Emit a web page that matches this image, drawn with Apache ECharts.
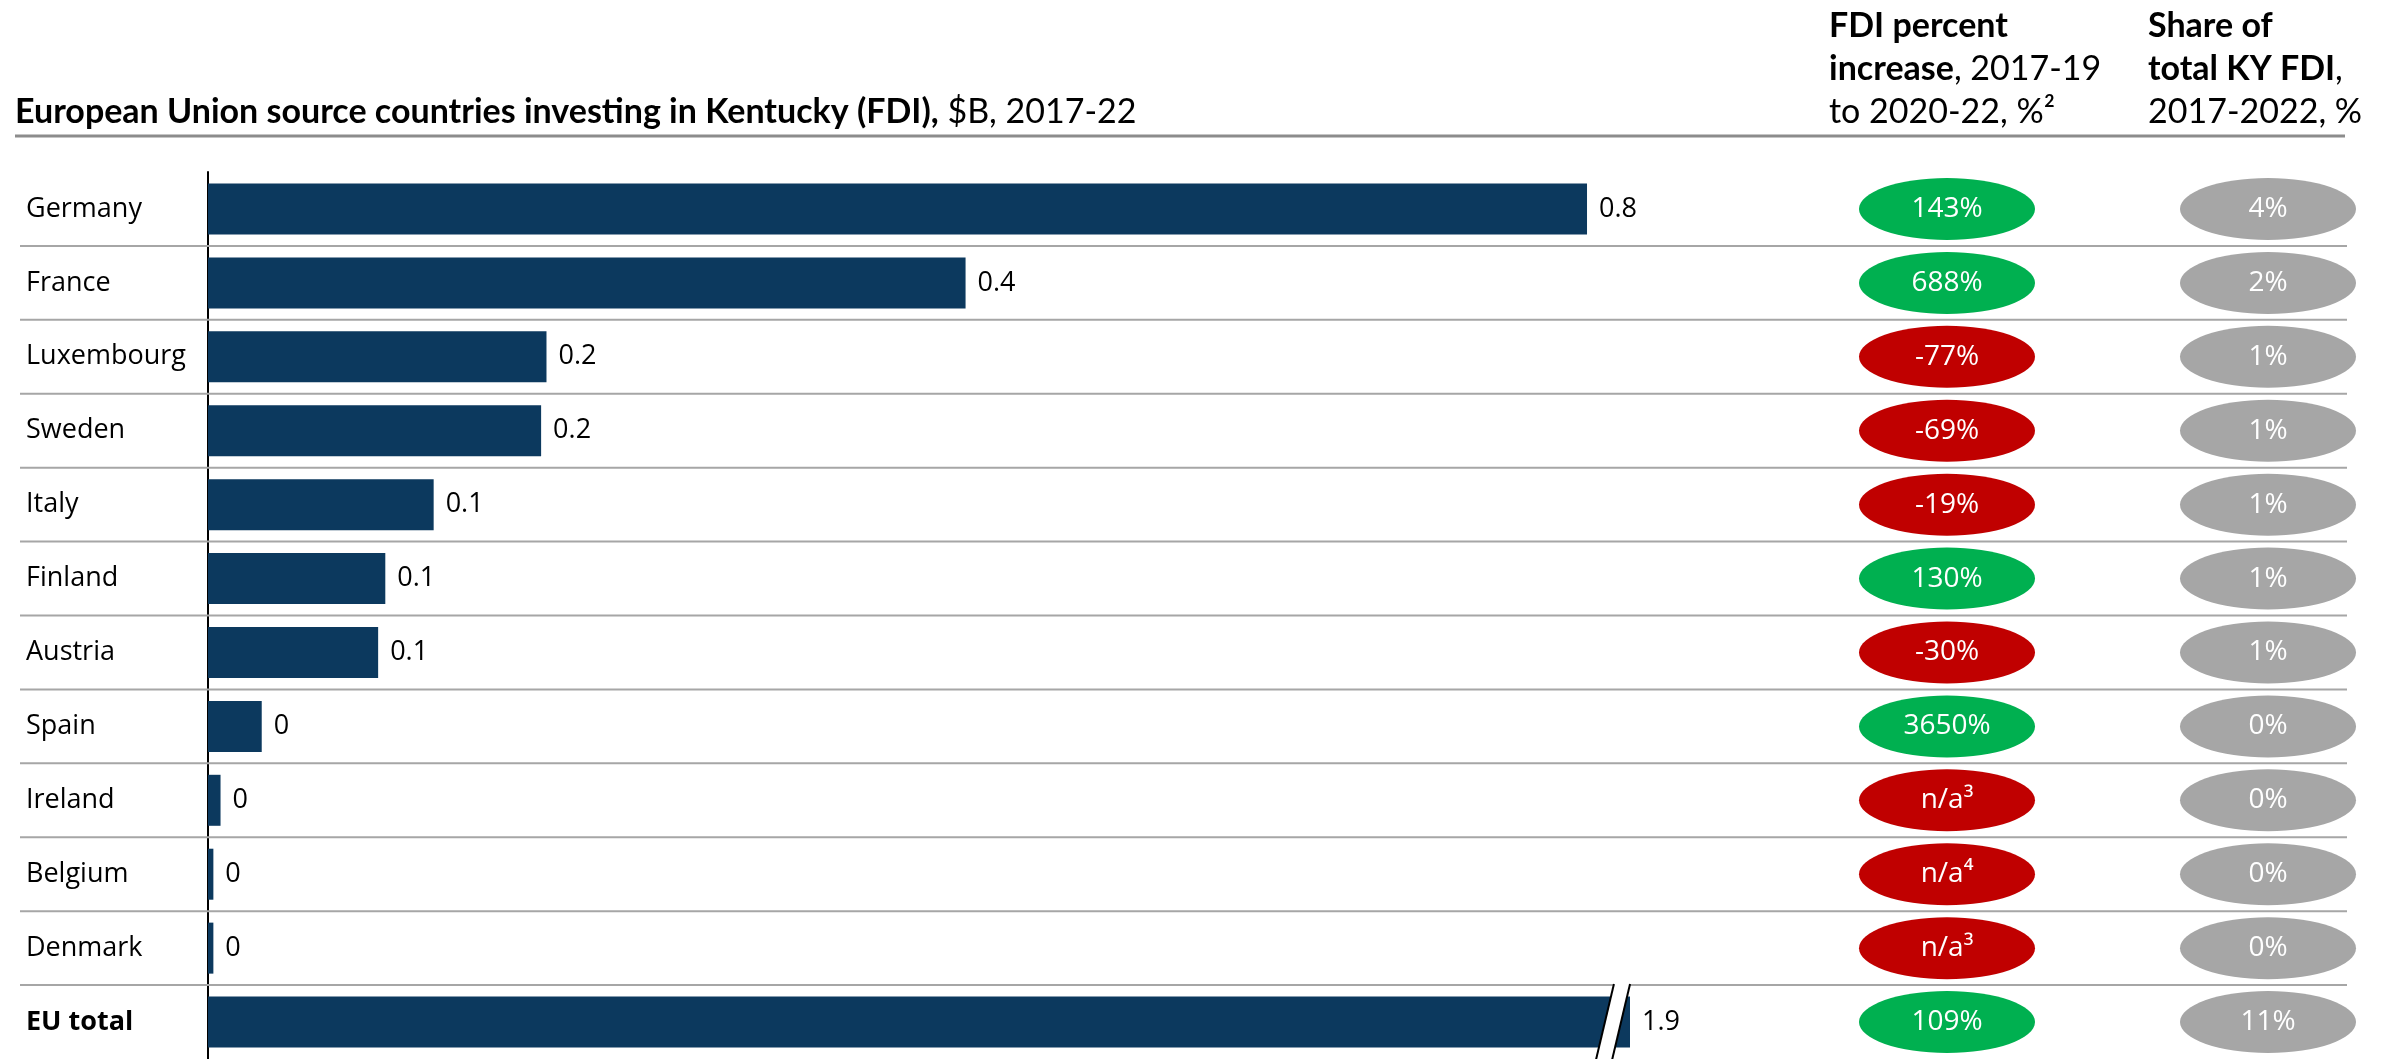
<!DOCTYPE html>
<html>
<head>
<meta charset="utf-8">
<script src="https://cdn.jsdelivr.net/npm/echarts@6/dist/echarts.min.js"></script>
<style>
  html, body { margin: 0; padding: 0; background: #ffffff; }
  #chart { width: 2382px; height: 1059px; }
</style>
</head>
<body>
<div id="chart"></div>
<script>
// EU source countries investing in Kentucky (FDI), $B, 2017-22
const countries = ['Germany', 'France', 'Luxembourg', 'Sweden', 'Italy', 'Finland', 'Austria', 'Spain', 'Ireland', 'Belgium', 'Denmark', 'EU total'];
const fdiBillions = [0.77, 0.423, 0.189, 0.186, 0.126, 0.099, 0.095, 0.03, 0.007, 0.003, 0.003, 1.9];
// FDI percent increase, 2017-19 to 2020-22 (null = n/a, with footnote mark)
const pctIncrease = [143, 688, -77, -69, -19, 130, -30, 3650, null, null, null, 109];
const pctFootnote = ['', '', '', '', '', '', '', '', '³', '⁴', '³', ''];
// Share of total KY FDI, 2017-2022, %
const shareOfKy = [4, 2, 1, 1, 1, 1, 1, 0, 0, 0, 0, 11];

// broken value axis so the EU total fits next to the countries
const axisBreak = { start: 0.78, end: 1.895, gap: 0.009 };

const NAVY = '#0c395e';
const GREEN = '#00b050';
const RED = '#c00000';
const GREY = '#a6a6a6';
const ROW_FONT = '"Open Sans", "Noto Sans", sans-serif';
const HEAD_FONT = 'Lato, "Open Sans", sans-serif';
const HEAD_SIZE = 34;

const fmtValue = v => String(Number(v.toFixed(1)));
const fmtPct = i => pctIncrease[i] === null ? 'n/a' + pctFootnote[i] : pctIncrease[i] + '%';
const pctColor = i => (pctIncrease[i] !== null && pctIncrease[i] > 0) ? GREEN : RED;

const headRich = {
  b: { fontFamily: HEAD_FONT, fontSize: HEAD_SIZE, fontWeight: 'bold', fill: '#000' },
  r: { fontFamily: HEAD_FONT, fontSize: HEAD_SIZE, fill: '#000' }
};
const headText = (x, y, text) => ({
  type: 'text', x: x, y: y,
  style: { text: text, verticalAlign: 'middle', rich: headRich }
});

const chart = echarts.init(document.getElementById('chart'), null, { renderer: 'canvas' });

const rowIdx = countries.map((c, i) => [0, i]);

chart.setOption({
  animation: false,
  backgroundColor: '#ffffff',
  grid: { left: 208, top: 172, width: 1422, height: 900, containLabel: false },
  xAxis: {
    type: 'value',
    min: 0,
    max: 1.9,
    breaks: [axisBreak],
    breakArea: { show: false },
    axisLine: { show: false },
    axisTick: { show: false },
    axisLabel: { show: false },
    splitLine: { show: false }
  },
  yAxis: {
    type: 'category',
    inverse: true,
    data: countries,
    axisLine: { show: true, lineStyle: { color: '#000', width: 2 } },
    axisTick: { show: false },
    axisLabel: {
      align: 'left',
      margin: 182,
      fontFamily: ROW_FONT,
      fontSize: 27,
      color: '#000',
      formatter: v => v === 'EU total' ? '{b|' + v + '}' : v,
      rich: { b: { fontFamily: ROW_FONT, fontSize: 27, fontWeight: 'bold', color: '#000' } }
    },
    splitLine: { show: false }
  },
  graphic: [
    { type: 'line', shape: { x1: 15, y1: 136, x2: 2345, y2: 136 }, style: { stroke: '#8c8c8c', lineWidth: 3 } },
    headText(15, 112, '{b|European Union source countries investing in Kentucky (FDI),}{r| $B, 2017-22}'),
    headText(1829, 26, '{b|FDI percent}'),
    headText(1829, 69, '{b|increase}{r|, 2017-19}'),
    headText(1829, 112, '{r|to 2020-22, %²}'),
    headText(2148, 26, '{b|Share of}'),
    headText(2148, 69, '{b|total KY FDI}{r|,}'),
    headText(2148, 112, '{r|2017-2022, %}')
  ],
  series: [
    {
      // row separators across the whole table
      type: 'custom',
      clip: false,
      z: 1,
      data: rowIdx.slice(0, countries.length - 1),
      encode: { x: 0, y: 1 },
      renderItem: (params, api) => {
        const y = api.coord([0, api.value(1)])[1] + api.size([0, 1])[1] / 2;
        return { type: 'line', shape: { x1: 20, y1: y, x2: 2347, y2: y }, style: { stroke: GREY, lineWidth: 2 } };
      }
    },
    {
      type: 'bar',
      z: 3,
      data: fdiBillions,
      barWidth: 51,
      itemStyle: { color: NAVY },
      label: {
        show: true,
        position: 'right',
        distance: 12,
        fontFamily: ROW_FONT,
        fontSize: 27,
        color: '#000',
        formatter: p => fmtValue(p.value)
      }
    },
    {
      // break mark on the EU total bar
      type: 'custom',
      clip: false,
      z: 5,
      data: [[axisBreak.start, countries.length - 1]],
      encode: { x: 0, y: 1 },
      renderItem: (params, api) => {
        const row = api.value(1);
        const a = api.coord([axisBreak.start, row]);
        const b = api.coord([axisBreak.end, row]);
        const cx = (a[0] + b[0]) / 2;
        const cy = a[1];
        const hw = Math.max((b[0] - a[0]) / 2, 5);
        const top = cy - 38, bot = cy + 38, s = 9;
        return {
          type: 'group',
          children: [
            { type: 'polygon', shape: { points: [[cx - hw + s, top], [cx + hw + s, top], [cx + hw - s, bot], [cx - hw - s, bot]] }, style: { fill: '#fff' } },
            { type: 'line', shape: { x1: cx - hw + s, y1: top, x2: cx - hw - s, y2: bot }, style: { stroke: '#000', lineWidth: 2 } },
            { type: 'line', shape: { x1: cx + hw + s, y1: top, x2: cx + hw - s, y2: bot }, style: { stroke: '#000', lineWidth: 2 } }
          ]
        };
      }
    },
    {
      // percent-increase and share ovals
      type: 'custom',
      clip: false,
      z: 4,
      data: rowIdx,
      encode: { x: 0, y: 1 },
      renderItem: (params, api) => {
        const i = api.value(1);
        const y = api.coord([0, i])[1];
        const mk = (cx, color, text) => [
          { type: 'ellipse', shape: { cx: cx, cy: y, rx: 88, ry: 31 }, style: { fill: color } },
          { type: 'text', style: { text: text, x: cx, y: y, align: 'center', verticalAlign: 'middle', fill: '#fff', font: '28px ' + ROW_FONT } }
        ];
        return {
          type: 'group',
          children: mk(1947, pctColor(i), fmtPct(i)).concat(mk(2268, GREY, shareOfKy[i] + '%'))
        };
      }
    }
  ]
});
</script>
</body>
</html>
